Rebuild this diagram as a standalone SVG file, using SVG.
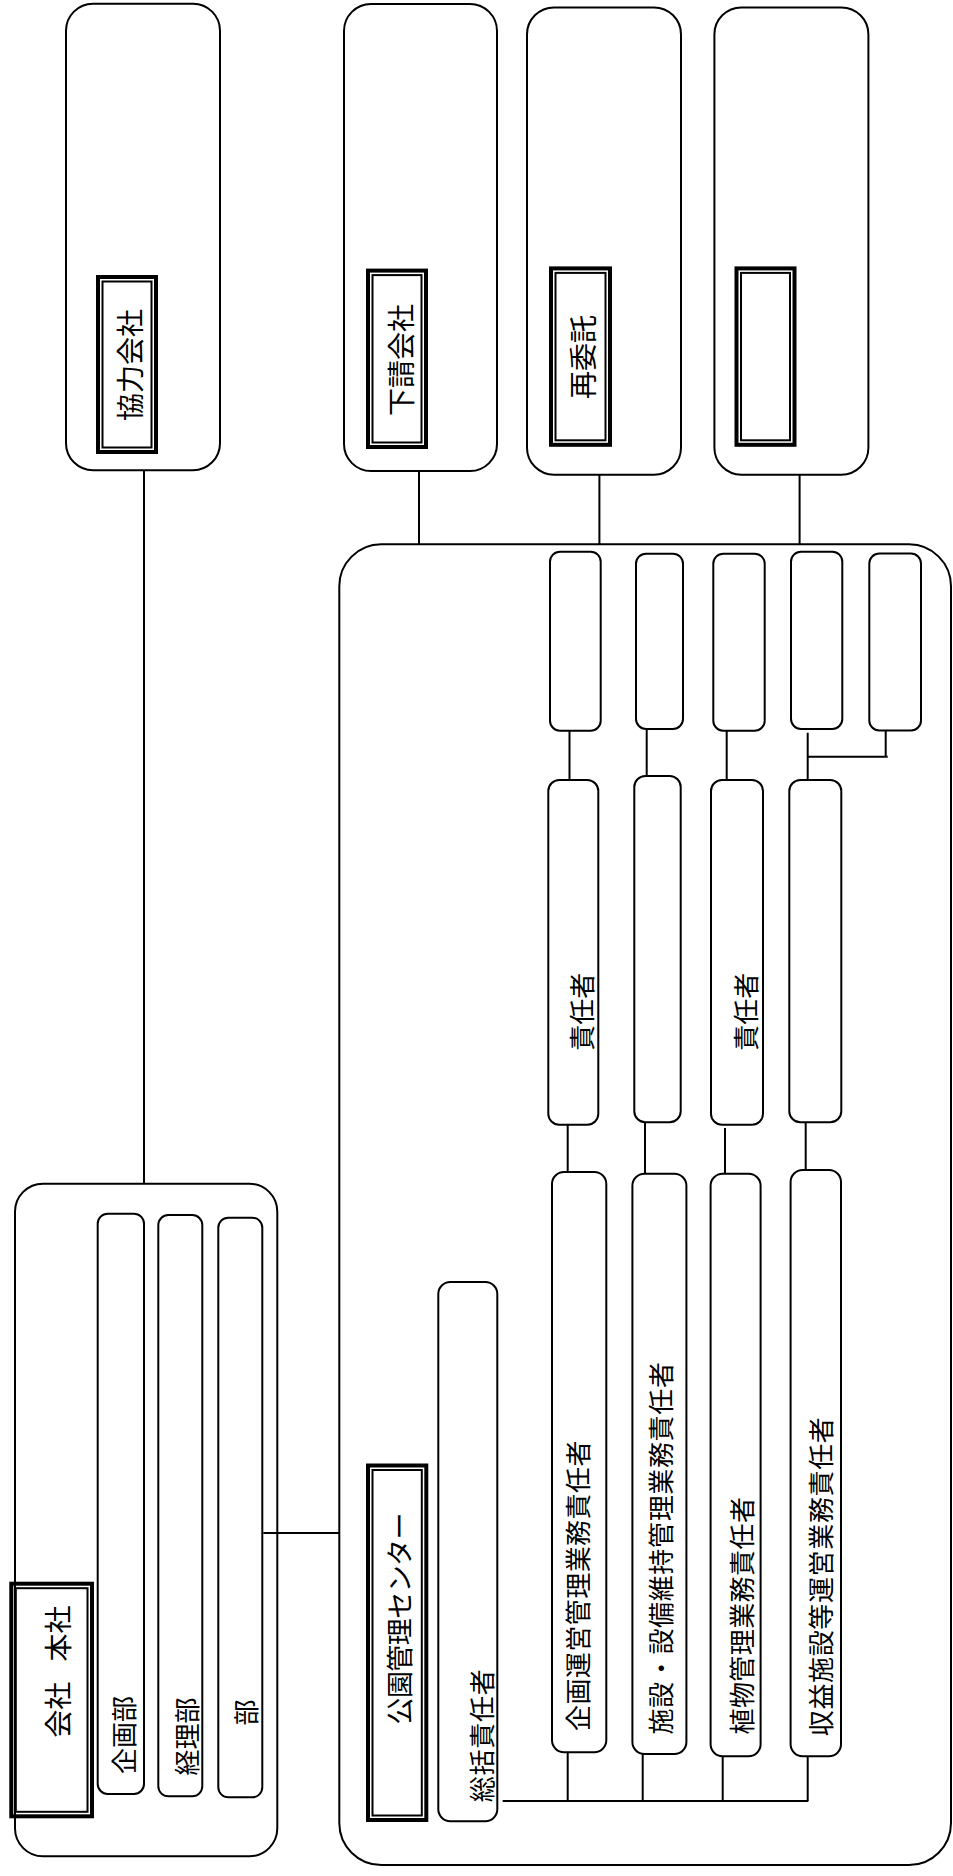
<svg xmlns="http://www.w3.org/2000/svg" width="953" height="1876" viewBox="0 0 953 1876">
<style>
.box{fill:#fff;stroke:#000;stroke-width:2}
.l1{fill:none;stroke:#000;stroke-width:4}
.l2{fill:none;stroke:#000;stroke-width:2}
.t{font-family:"Noto Sans CJK JP","Noto Sans CJK SC",sans-serif;text-anchor:middle;dominant-baseline:central;fill:#000}
.f28{font-size:28px}
.f26{font-size:26px}
#connectors line{stroke:#000;stroke-width:2;fill:none}
</style>
<rect width="953" height="1876" fill="#fff"/>

<!-- containers -->
<g id="kyoryoku">
<rect class="box" x="66" y="3.7" width="154" height="466.5" rx="27"/>
<rect class="l1" x="98" y="277" width="58" height="175"/>
<rect class="l2" x="102.5" y="281.5" width="49" height="166"/>
<text class="t f28" transform="translate(129.2,365) rotate(-90)">協力会社</text>
</g>
<g id="shitauke">
<rect class="box" x="344" y="4" width="153" height="467" rx="27"/>
<rect class="l1" x="368" y="270.6" width="58" height="176.4"/>
<rect class="l2" x="372.5" y="275.1" width="49" height="167.4"/>
<text class="t f28" transform="translate(399.5,360) rotate(-90)">下請会社</text>
</g>
<g id="saiitaku">
<rect class="box" x="527" y="7.4" width="154" height="467.3" rx="27"/>
<rect class="l1" x="551" y="268.4" width="59" height="176.4"/>
<rect class="l2" x="555.5" y="272.9" width="50" height="167.4"/>
<text class="t f28" transform="translate(582.3,357) rotate(-90)">再委託</text>
</g>
<g id="other">
<rect class="box" x="714.4" y="7.4" width="154" height="467.3" rx="27"/>
<rect class="l1" x="736.5" y="268.4" width="58" height="176.4"/>
<rect class="l2" x="741" y="272.9" width="49" height="167.4"/>
</g>
<g id="honsha">
<rect class="box" x="15" y="1183.7" width="262.3" height="672.6" rx="28"/>
<rect class="l1" x="11.3" y="1583.7" width="80.7" height="232.6"/>
<rect class="l2" x="15.8" y="1588.2" width="71.7" height="223.6"/>
<text class="t f28" style="word-spacing:14px" transform="translate(56.7,1671.7) rotate(-90)">会社 本社</text>
</g>
<g id="center">
<rect class="box" x="339.3" y="544.3" width="611.7" height="1320.7" rx="42"/>
<rect class="l1" x="368" y="1465.5" width="58.3" height="354.5"/>
<rect class="l2" x="372.5" y="1470" width="49.3" height="345.5"/>
<text class="t" style="font-size:27px" textLength="212" lengthAdjust="spacing" transform="translate(398.3,1618.5) rotate(-90)">公園管理センター</text>
</g>

<!-- connectors -->
<g id="connectors">
<line x1="144" y1="470" x2="144" y2="1183.7"/>
<line x1="263.3" y1="1533" x2="339.3" y2="1533"/>
<line x1="419" y1="471" x2="419" y2="544.3"/>
<line x1="599.4" y1="474.7" x2="599.4" y2="544.3"/>
<line x1="799.6" y1="474.7" x2="799.6" y2="544.3"/>
<line x1="569.5" y1="730.7" x2="569.5" y2="780"/>
<line x1="646.7" y1="729" x2="646.7" y2="776"/>
<line x1="726.7" y1="730.7" x2="726.7" y2="780"/>
<line x1="807.7" y1="732.7" x2="807.7" y2="780"/>
<line x1="885.7" y1="730.4" x2="885.7" y2="756.7"/>
<line x1="807.7" y1="756.7" x2="887.7" y2="756.7"/>
<line x1="567.7" y1="1124.7" x2="567.7" y2="1172"/>
<line x1="645" y1="1122.3" x2="645" y2="1173.7"/>
<line x1="725" y1="1128" x2="725" y2="1173.7"/>
<line x1="805.7" y1="1122.3" x2="805.7" y2="1170"/>
<line x1="502.7" y1="1801" x2="808.3" y2="1801"/>
<line x1="567.7" y1="1752.3" x2="567.7" y2="1801"/>
<line x1="642.7" y1="1754" x2="642.7" y2="1801"/>
<line x1="722.7" y1="1756.3" x2="722.7" y2="1801"/>
<line x1="807.7" y1="1756.3" x2="807.7" y2="1801"/>
</g>

<!-- honsha departments -->
<g id="kikakubu">
<rect class="box" x="97.7" y="1213.7" width="46.3" height="580.3" rx="10"/>
<text class="t f26" transform="translate(122.5,1735) rotate(-90)">企画部</text>
</g>
<g id="keiribu">
<rect class="box" x="158.3" y="1215" width="44" height="581.3" rx="10"/>
<text class="t f26" transform="translate(185,1736.5) rotate(-90)">経理部</text>
</g>
<g id="bu">
<rect class="box" x="218.3" y="1217.7" width="44" height="579.6" rx="10"/>
<text class="t f26" transform="translate(244,1712.5) rotate(-90)">部</text>
</g>

<!-- center nodes -->
<g id="sokatsu">
<rect class="box" x="438.3" y="1282" width="59" height="539.3" rx="12"/>
<text class="t f26" textLength="133" lengthAdjust="spacing" transform="translate(480,1735.8) rotate(-90)">総括責任者</text>
</g>
<g id="kikaku-unei">
<rect class="box" x="552" y="1172" width="54.3" height="580.3" rx="12"/>
<text class="t f26" textLength="290.5" lengthAdjust="spacing" transform="translate(576.7,1585.8) rotate(-90)">企画運営管理業務責任者</text>
</g>
<g id="shisetsu">
<rect class="box" x="632.4" y="1173.7" width="54" height="580.3" rx="12"/>
<text class="t f26" textLength="372.5" lengthAdjust="spacing" transform="translate(659,1548.3) rotate(-90)">施設・設備維持管理業務責任者</text>
</g>
<g id="shokubutsu">
<rect class="box" x="710.6" y="1173.7" width="50" height="582.6" rx="12"/>
<text class="t f26" textLength="237.5" lengthAdjust="spacing" transform="translate(740,1615.8) rotate(-90)">植物管理業務責任者</text>
</g>
<g id="shueki">
<rect class="box" x="790.6" y="1170" width="50.4" height="586.3" rx="12"/>
<text class="t f26" textLength="319" lengthAdjust="spacing" transform="translate(819.2,1576.7) rotate(-90)">収益施設等運営業務責任者</text>
</g>

<g id="mid1">
<rect class="box" x="548.3" y="780" width="50" height="344.7" rx="11"/>
<text class="t f26" transform="translate(580.8,1011.7) rotate(-90)">責任者</text>
</g>
<g id="mid2">
<rect class="box" x="634.3" y="776" width="46.4" height="346.3" rx="11"/>
</g>
<g id="mid3">
<rect class="box" x="711" y="780" width="52" height="344.7" rx="11"/>
<text class="t f26" transform="translate(744.2,1011.7) rotate(-90)">責任者</text>
</g>
<g id="mid4">
<rect class="box" x="789.3" y="780" width="52" height="342.3" rx="11"/>
</g>

<g id="small1"><rect class="box" x="550" y="551.7" width="50.7" height="179" rx="10"/></g>
<g id="small2"><rect class="box" x="636" y="553.7" width="47" height="175.3" rx="10"/></g>
<g id="small3"><rect class="box" x="713.3" y="553.7" width="51.4" height="177" rx="10"/></g>
<g id="small4"><rect class="box" x="791" y="551.7" width="51.3" height="177.3" rx="10"/></g>
<g id="small5"><rect class="box" x="869.3" y="553.6" width="51.7" height="176.8" rx="10"/></g>
</svg>
